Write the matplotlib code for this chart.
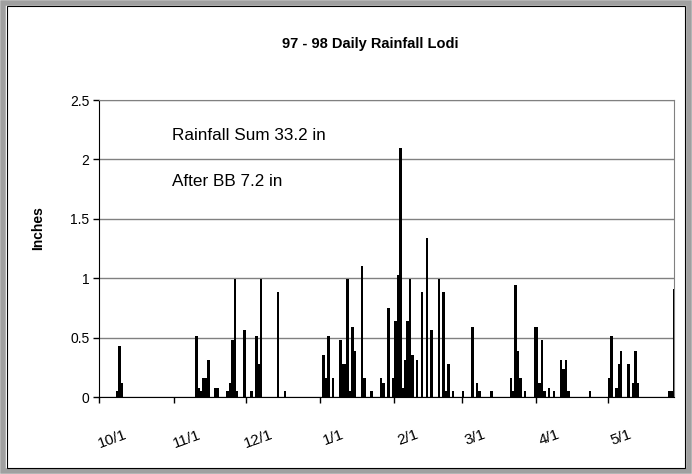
import matplotlib
matplotlib.use("Agg")
import matplotlib.pyplot as plt
import matplotlib.transforms as mtransforms
from matplotlib.patches import Rectangle

# day index counted from 10/1/97, rainfall in inches
days = [7, 8, 9,
        40, 41, 42, 43, 44, 45, 48, 49,
        53, 54, 55, 56, 57, 60, 63, 65, 66, 67, 74, 77,
        93, 94, 95, 97, 100, 101, 102, 103, 104, 105, 106, 109, 110, 113, 117, 118,
        120, 122, 123, 124, 125, 126, 127, 128, 129, 130, 132, 134, 136, 138,
        141, 143, 144, 145, 147, 151, 155, 157, 158, 163,
        171, 172, 173, 174, 175, 177, 181, 182, 183, 184, 185, 187, 189,
        192, 193, 194, 195, 204,
        212, 213, 215, 216, 217, 220, 222, 223, 224, 237, 238, 239]
rain = [0.05, 0.43, 0.12,
        0.51, 0.08, 0.05, 0.16, 0.16, 0.31, 0.08, 0.08,
        0.05, 0.12, 0.48, 0.99, 0.05, 0.56, 0.05, 0.51, 0.28, 0.99, 0.88, 0.05,
        0.35, 0.16, 0.51, 0.16, 0.48, 0.28, 0.28, 0.99, 0.05, 0.59, 0.39, 1.10, 0.16, 0.05, 0.16, 0.12,
        0.75, 0.16, 0.64, 1.03, 2.10, 0.08, 0.31, 0.64, 0.99, 0.35, 0.31, 0.88, 1.34, 0.56,
        0.99, 0.88, 0.05, 0.28, 0.05, 0.05, 0.59, 0.12, 0.05, 0.05,
        0.16, 0.05, 0.94, 0.39, 0.16, 0.05, 0.59, 0.59, 0.12, 0.48, 0.05, 0.08, 0.05,
        0.31, 0.24, 0.31, 0.05, 0.05,
        0.16, 0.51, 0.08, 0.28, 0.39, 0.28, 0.12, 0.39, 0.12, 0.05, 0.05, 0.91]

month_start = [0, 31, 61, 92, 123, 151, 182, 212]
month_labels = ["10/1", "11/1", "12/1", "1/1", "2/1", "3/1", "4/1", "5/1"]
yticks = [0, 0.5, 1, 1.5, 2, 2.5]
ytick_labels = ["0", "0.5", "1", "1.5", "2", "2.5"]

plt.rcParams["font.family"] = ["Liberation Sans", "DejaVu Sans"]

fig = plt.figure(figsize=(6.92, 4.74), dpi=100)
ax = fig.add_axes([0.1435, 0.1624, 0.8305, 0.6266])

ax.bar([d + 0.5 for d in days], rain, width=1.0, color="black", zorder=3)

ax.set_xlim(0, 239.5)
ax.set_ylim(0, 2.5)
ax.set_yticks(yticks)
ax.set_yticklabels(ytick_labels, fontsize=10)
ax.set_xticks(month_start)
ax.set_xticklabels(month_labels, fontsize=11, rotation=20, ha="center")
ax.tick_params(axis="y", direction="out", length=4, width=1, pad=3)
ax.tick_params(axis="x", direction="out", length=4, width=1, pad=18)

# shift date labels a little to the right, like Excel does
offset = mtransforms.ScaledTranslation(13 / 100, 0, fig.dpi_scale_trans)
for lab in ax.get_xticklabels():
    lab.set_transform(lab.get_transform() + offset)

ax.grid(axis="y", color="#808080", linewidth=1, zorder=0)
ax.spines["left"].set_color("black")
ax.spines["bottom"].set_color("black")
ax.spines["top"].set_color("#808080")
ax.spines["right"].set_color("#808080")

ax.set_ylabel("Inches", fontsize=10, fontweight="bold")
ax.yaxis.set_label_coords(-0.094, 0.57)
fig.text(0.535, 0.908, "97 - 98 Daily Rainfall Lodi", fontsize=10.5,
         fontweight="bold", ha="center", va="center")

ax.text(0.126, 0.882, "Rainfall Sum 33.2 in", transform=ax.transAxes,
        fontsize=12.3, va="center", ha="left")
ax.text(0.126, 0.724, "After BB 7.2 in", transform=ax.transAxes,
        fontsize=12.3, va="center", ha="left")

# chart area border
fig.patches.append(Rectangle((0.004, 0.006), 0.992, 0.988, transform=fig.transFigure,
                             fill=False, edgecolor="#a0a0a0", linewidth=4))
fig.patches.append(Rectangle((0.0095, 0.0135), 0.981, 0.973, transform=fig.transFigure,
                             fill=False, edgecolor="black", linewidth=0.8))

fig.savefig("out.png", dpi=100)
